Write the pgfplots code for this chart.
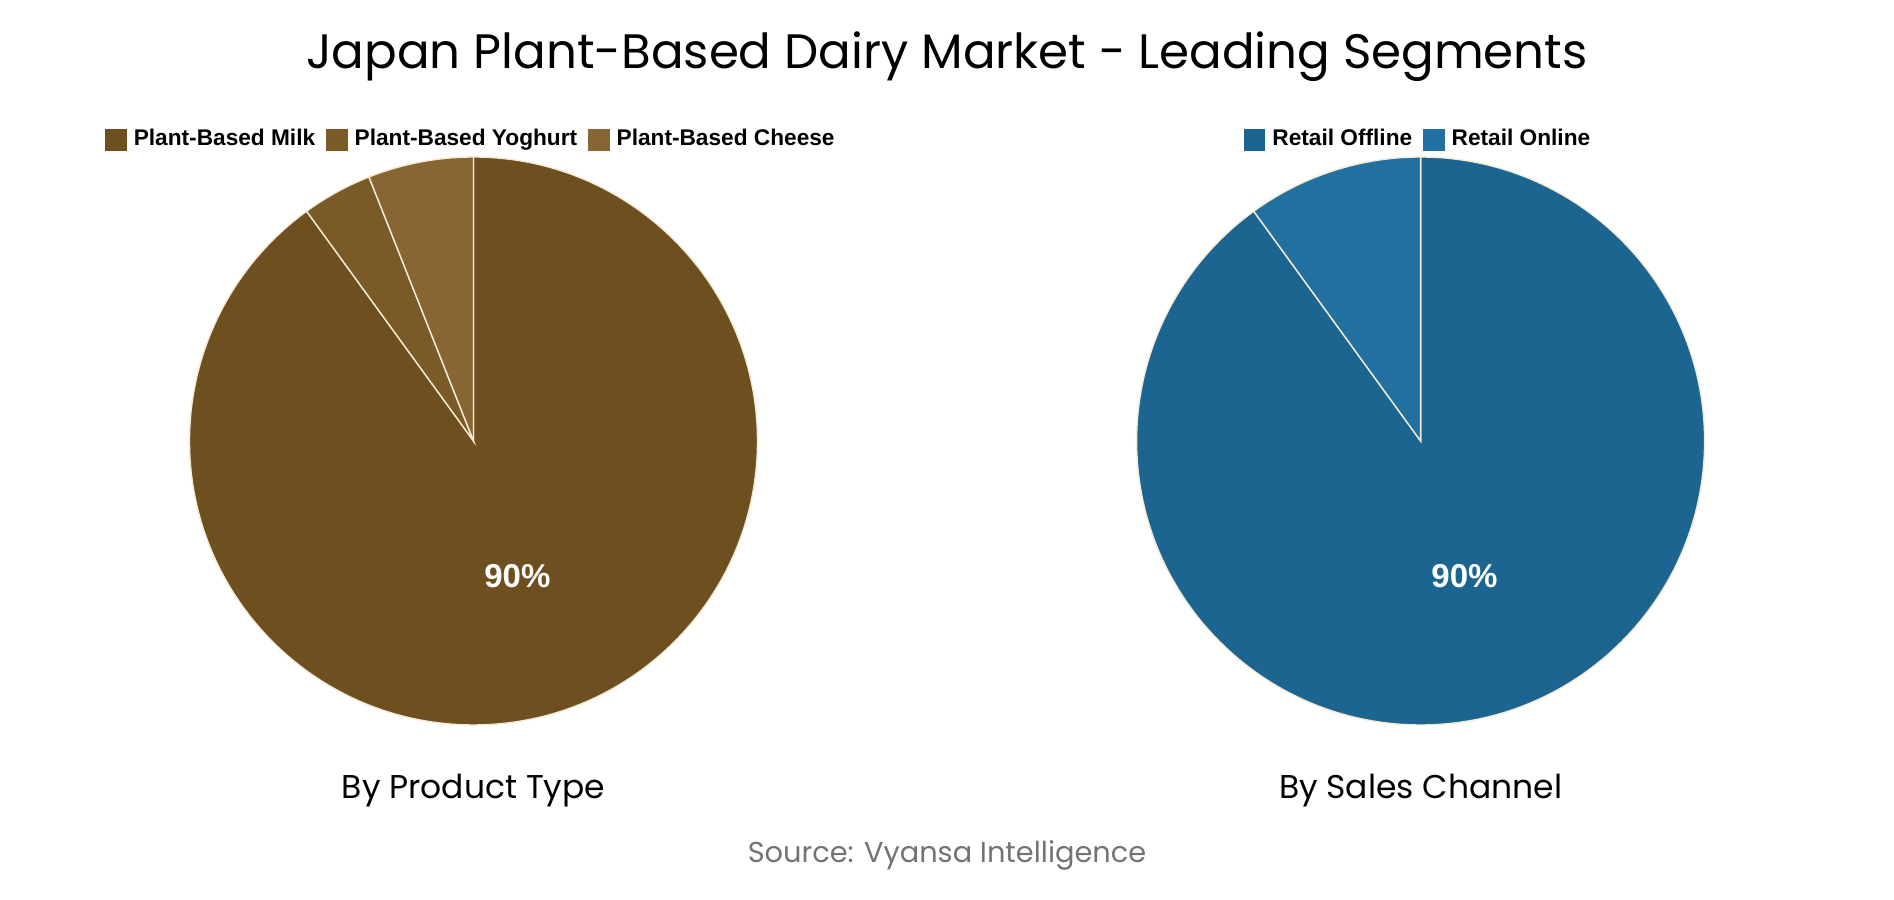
\documentclass[border=0pt]{standalone}
\usepackage{pgfplots}
\usepackage{pgfplotstable}
\pgfplotsset{compat=1.18}
\usepackage{fontspec}
\setmainfont{Liberation Sans}
\newfontfamily\titlefont{Poppins}

\definecolor{prod0}{HTML}{6E4F1F}
\definecolor{prod1}{HTML}{7A5A27}
\definecolor{prod2}{HTML}{876633}
\definecolor{chan0}{HTML}{1C6590}
\definecolor{chan1}{HTML}{21709F}
\definecolor{sliceline}{HTML}{F3EBD6}

\pgfplotstableread{
label value
{Plant-Based Milk} 90
{Plant-Based Yoghurt} 4
{Plant-Based Cheese} 6
}\producttable

\pgfplotstableread{
label value
{Retail Offline} 90
{Retail Online} 10
}\channeltable

% pie from a table: #1 table, #2 cx, #3 cy, #4 radius (cm), #5 colour prefix
\newcommand\drawpie[5]{%
  \pgfplotstablegetrowsof{#1}%
  \pgfmathtruncatemacro\nrows{\pgfplotsretval-1}%
  \def\angstart{90}%
  \pgfplotsforeachungrouped \i in {0,...,\nrows}{%
    \pgfplotstablegetelem{\i}{value}\of{#1}\let\val\pgfplotsretval
    \pgfmathsetmacro\angend{\angstart-3.6*\val}%
    \pgfmathsetmacro\angmid{(\angstart+\angend)/2}%
    \edef\temp{\noexpand\fill[#5\i, draw=sliceline, line width=0.4pt]
      (axis cs:#2,#3) -- ++(\angstart:#4cm)
      arc[start angle=\angstart, end angle=\angend, radius=#4cm] -- cycle;}%
    \temp
    \pgfmathparse{\val>15?1:0}%
    \ifnum\pgfmathresult=1
      \edef\temp{\noexpand\node[text=white, font=\noexpand\fontsize{9.4}{11}\noexpand\selectfont\noexpand\bfseries]
        at ([shift={(\angmid:#4cm*0.5)}]axis cs:#2,#3) {\val\noexpand\%};}%
      \temp
    \fi
    \let\angstart\angend
  }%
}

\pgfplotsset{
  piepanel/.style={
    width=9.47cm, height=9cm, scale only axis,
    xmin=0, xmax=9.47, ymin=0, ymax=9,
    hide axis, clip=false,
    legend columns=-1,
    legend style={draw=none, fill=none, inner sep=0pt,
      font=\fontsize{6.45}{7.5}\selectfont\bfseries,
      /tikz/every even column/.append style={column sep=0.04cm}},
  },
  sq/.style={legend image code/.code={\fill[#1] (-0.04cm,-0.1cm) rectangle (0.16cm,0.1cm);}},
}

\begin{document}
\begin{tikzpicture}
\begin{axis}[piepanel, at={(0,0)}, anchor=south west,
  legend style={at={(axis cs:4.735,7.6)}, anchor=center}]
  \path (axis cs:0,0) rectangle (axis cs:9.47,9);
  \drawpie{\producttable}{4.735}{4.59}{2.84}{prod}
  \addlegendimage{sq=prod0}\addlegendentry{Plant-Based Milk}
  \addlegendimage{sq=prod1}\addlegendentry{Plant-Based Yoghurt}
  \addlegendimage{sq=prod2}\addlegendentry{Plant-Based Cheese}
  \node[font=\titlefont\fontsize{9.37}{11}\selectfont] at (axis cs:4.735,1.09) {By Product Type};
\end{axis}
\begin{axis}[piepanel, at={(9.47cm,0)}, anchor=south west,
  legend style={at={(axis cs:4.736,7.6)}, anchor=center}]
  \path (axis cs:0,0) rectangle (axis cs:9.47,9);
  \drawpie{\channeltable}{4.736}{4.59}{2.84}{chan}
  \addlegendimage{sq=chan0}\addlegendentry{Retail Offline}
  \addlegendimage{sq=chan1}\addlegendentry{Retail Online}
  \node[font=\titlefont\fontsize{9.37}{11}\selectfont] at (axis cs:4.736,1.09) {By Sales Channel};
\end{axis}
\node[font=\titlefont\fontsize{13.75}{16}\selectfont] at (9.47cm,8.43cm) {Japan Plant-Based Dairy Market - Leading Segments};
\node[font=\titlefont\fontsize{8.2}{10}\selectfont, text=black!55] at (9.47cm,0.45cm) {Source: Vyansa Intelligence};
\end{tikzpicture}
\end{document}
